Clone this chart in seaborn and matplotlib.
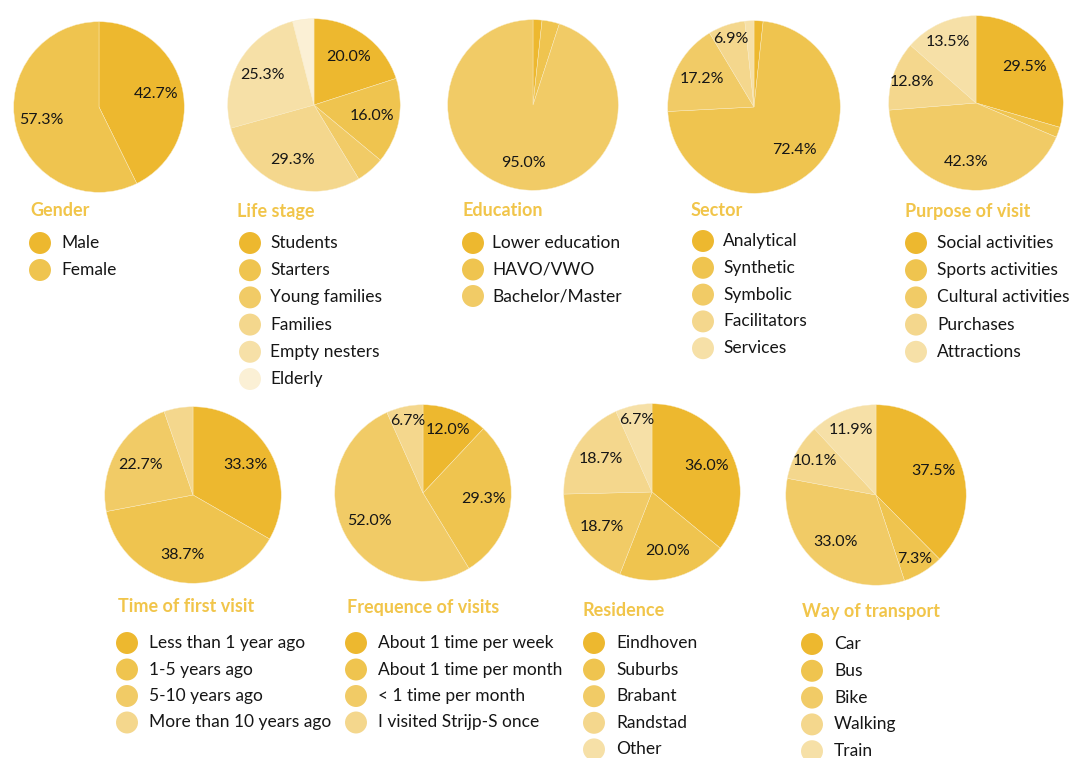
import numpy as np
import matplotlib
matplotlib.use("Agg")
import matplotlib.pyplot as plt
import seaborn as sns

# ---- data (percent of respondents) ----
gender_labels = ["Male", "Female"]
gender_values = [42.7, 57.3]

lifestage_labels = ["Students", "Starters", "Young families", "Families", "Empty nesters", "Elderly"]
lifestage_values = [20.0, 16.0, 5.3, 29.3, 25.3, 4.0]

education_labels = ["Lower education", "HAVO/VWO", "Bachelor/Master"]
education_values = [1.7, 3.3, 95.0]

sector_labels = ["Analytical", "Synthetic", "Symbolic", "Facilitators", "Services"]
sector_values = [1.7, 72.4, 17.2, 6.9, 1.7]

purpose_labels = ["Social activities", "Sports activities", "Cultural activities", "Purchases", "Attractions"]
purpose_values = [29.5, 1.9, 42.3, 12.8, 13.5]

firstvisit_labels = ["Less than 1 year ago", "1-5 years ago", "5-10 years ago", "More than 10 years ago"]
firstvisit_values = [33.3, 38.7, 22.7, 5.3]

frequency_labels = ["About 1 time per week", "About 1 time per month", "< 1 time per month", "I visited Strijp-S once"]
frequency_values = [12.0, 29.3, 52.0, 6.7]

residence_labels = ["Eindhoven", "Suburbs", "Brabant", "Randstad", "Other"]
residence_values = [36.0, 20.0, 18.7, 18.7, 6.7]

transport_labels = ["Car", "Bus", "Bike", "Walking", "Train"]
transport_values = [37.5, 7.3, 33.0, 10.1, 11.9]

# ---- style ----
sns.set_theme(style="white")
plt.rcParams["font.family"] = ["Lato", "DejaVu Sans"]

W, H = 1078, 758
palette = sns.blend_palette(["#EDB82F", "#EFC44F", "#F1CB66", "#F4D78D", "#F6E0A7", "#FBF0D5"], 6)
title_color = "#F1C54A"
text_color = "#161616"

fig = plt.figure(figsize=(W / 100, H / 100), dpi=100)
fig.patch.set_facecolor("white")

# overlay in pixel coordinates for titles and legends
overlay = fig.add_axes([0, 0, 1, 1])
overlay.set_xlim(0, W)
overlay.set_ylim(H, 0)
overlay.axis("off")

charts = [
    # title, labels, values, pie centre (x, y), radius, title pos, legend pos (circle x, text x, first y, step)
    ("Gender", gender_labels, gender_values, (99, 107), 87, (30, 211), (40, 61, 243, 27)),
    ("Life stage", lifestage_labels, lifestage_values, (314, 105), 88, (237, 211), (250, 270, 243, 27.2)),
    ("Education", education_labels, education_values, (533, 105), 87, (462, 211), (473, 492, 243, 26.5)),
    ("Sector", sector_labels, sector_values, (754, 107), 88, (691, 211), (703, 723, 241, 26.8)),
    ("Purpose of visit", purpose_labels, purpose_values, (976, 103), 89, (905, 211), (916, 937, 243, 27.2)),
    ("Time of first visit", firstvisit_labels, firstvisit_values, (193, 495), 90, (118, 607), (127, 149, 643, 26.5)),
    ("Frequence of visits", frequency_labels, frequency_values, (423, 493), 90, (347, 607), (356, 378, 643, 26.5)),
    ("Residence", residence_labels, residence_values, (652, 492), 90, (582, 611), (594, 616, 643, 26.6)),
    ("Way of transport", transport_labels, transport_values, (876, 495), 92, (802, 611), (812, 834, 644, 26.8)),
]


def label_distance(v):
    # small slices get their label pushed towards the rim
    if v < 10:
        return 0.83
    if v < 15:
        return 0.77
    return 0.69


for title, labels, values, (cx, cy), r, (tx, ty), (lx, ltx, ly, step) in charts:
    ax = fig.add_axes([(cx - r) / W, 1 - (cy + r) / H, 2 * r / W, 2 * r / H])
    colors = palette[:len(values)]
    wedges, _ = ax.pie(values, colors=colors, startangle=90, counterclock=False,
                       radius=1.0, wedgeprops=dict(linewidth=0.3, edgecolor="#F9EBC4"))
    ax.set_xlim(-1.02, 1.02)
    ax.set_ylim(-1.02, 1.02)
    ax.axis("off")
    # percentage labels for the larger slices
    for w, v in zip(wedges, values):
        if v < 6:
            continue
        mid = np.deg2rad((w.theta1 + w.theta2) / 2)
        d = label_distance(v)
        ax.text(d * np.cos(mid), d * np.sin(mid), f"{v:.1f}%", ha="center", va="center",
                fontsize=11.5, color=text_color)

    overlay.text(tx, ty, title, ha="left", va="center", fontsize=13,
                 fontweight="bold", color=title_color)
    for i, (lab, col) in enumerate(zip(labels, colors)):
        y = ly + i * step
        overlay.scatter([lx], [y], s=250, color=col, edgecolors="none")
        overlay.text(ltx, y, lab, ha="left", va="center", fontsize=12.5, color=text_color)

fig.savefig("out.png", dpi=100, facecolor="white")
